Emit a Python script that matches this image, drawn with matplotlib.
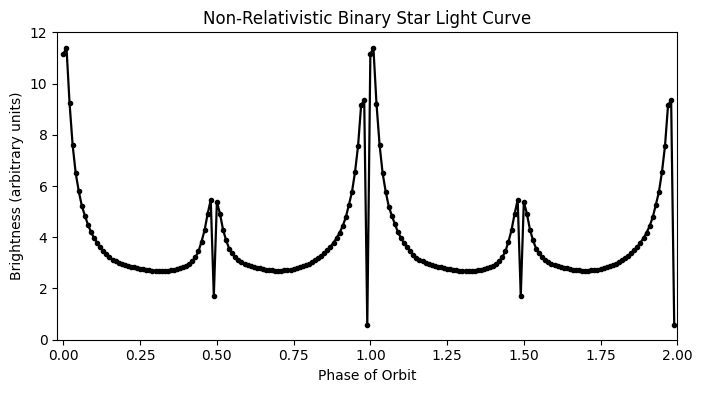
import numpy as np
import matplotlib
matplotlib.use("Agg")
import matplotlib.pyplot as plt

# phase step 0.01, two orbits (0.00 .. 1.99)
phase = np.arange(0, 2, 0.01)

# brightness, first orbit (phase 0.00 - 0.99)
orbit_1 = [
    11.16, 11.40, 9.23, 7.60, 6.50, 5.80, 5.22, 4.84, 4.49, 4.20,
    3.96, 3.79, 3.62, 3.46, 3.33, 3.22, 3.13, 3.06, 3.00, 2.95,
    2.91, 2.88, 2.85, 2.82, 2.79, 2.77, 2.75, 2.73, 2.72, 2.70,
    2.69, 2.69, 2.68, 2.69, 2.68, 2.72, 2.71, 2.75, 2.78, 2.83,
    2.89, 2.97, 3.07, 3.22, 3.45, 3.83, 4.28, 4.92, 5.46, 1.70,
    5.38, 4.92, 4.30, 3.88, 3.56, 3.37, 3.21, 3.10, 3.02, 2.96,
    2.91, 2.87, 2.84, 2.81, 2.78, 2.76, 2.74, 2.72, 2.71, 2.70,
    2.70, 2.69, 2.72, 2.71, 2.74, 2.76, 2.79, 2.83, 2.87, 2.92,
    2.97, 3.03, 3.10, 3.18, 3.27, 3.37, 3.49, 3.63, 3.79, 3.97,
    4.18, 4.44, 4.78, 5.26, 5.76, 6.54, 7.57, 9.17, 9.34, 0.58,
]

# second orbit (phase 1.00 - 1.99)
orbit_2 = [
    11.16, 11.38, 9.21, 7.61, 6.50, 5.78, 5.20, 4.84, 4.51, 4.20,
    3.96, 3.77, 3.63, 3.45, 3.31, 3.20, 3.13, 3.06, 3.00, 2.95,
    2.91, 2.88, 2.85, 2.82, 2.79, 2.77, 2.75, 2.73, 2.72, 2.70,
    2.69, 2.69, 2.68, 2.69, 2.68, 2.72, 2.71, 2.75, 2.78, 2.83,
    2.89, 2.97, 3.07, 3.22, 3.45, 3.83, 4.28, 4.92, 5.46, 1.70,
    5.38, 4.92, 4.30, 3.88, 3.56, 3.37, 3.21, 3.10, 3.02, 2.96,
    2.91, 2.87, 2.84, 2.81, 2.78, 2.76, 2.74, 2.72, 2.71, 2.70,
    2.70, 2.69, 2.72, 2.71, 2.74, 2.76, 2.79, 2.83, 2.87, 2.92,
    2.97, 3.03, 3.10, 3.18, 3.27, 3.37, 3.49, 3.63, 3.79, 3.97,
    4.18, 4.44, 4.78, 5.26, 5.76, 6.54, 7.57, 9.17, 9.34, 0.58,
]

brightness = np.array(orbit_1 + orbit_2)


def main():
    fig = plt.figure(figsize=(7.02, 3.93), dpi=100)
    ax = fig.add_axes([0.0816, 0.1356, 0.8832, 0.7822])

    ax.plot(phase, brightness, "o-", color="black", markersize=3, linewidth=1.6)

    ax.set_xlim(-0.02, 2.0)
    ax.set_ylim(0, 12)
    ax.set_xticks([0, 0.25, 0.5, 0.75, 1.0, 1.25, 1.5, 1.75, 2.0])
    ax.set_title("Non-Relativistic Binary Star Light Curve")
    ax.set_xlabel("Phase of Orbit")
    ax.set_ylabel("Brightness (arbitrary units)")

    fig.savefig("out.png", dpi=100)


if __name__ == "__main__":
    main()
